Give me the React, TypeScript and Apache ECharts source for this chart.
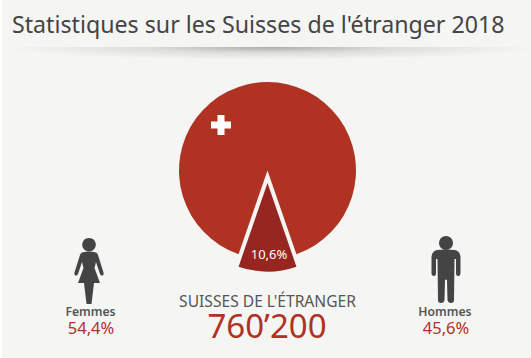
import React, { useEffect, useRef } from "react";
import * as echarts from "echarts";

const TITLE = "Statistiques sur les Suisses de l'étranger 2018";
const sliceNames = ["Suisses de l'étranger", "Reste"];
const sliceValues = [10.6, 89.4];
const sliceLabel = "10,6%";
const totalLabel = "SUISSES DE L'ÉTRANGER";
const totalValue = "760’200";
const genderNames = ["Femmes", "Hommes"];
const genderShares = ["54,4%", "45,6%"];

const RED = "#b03222";
const DARK_RED = "#96261f";
const GREY = "#444444";
const BG = "#f5f5f3";
const FONT = "'Noto Sans', sans-serif";

echarts.graphic.registerShape(
  "woman",
  echarts.graphic.extendPath(
    "M82 252.5 Q89 250.5 96 252.5 Q97.5 253 98 255 L103.5 272.5 Q104 275 102.5 275.5 Q101 276 100 274 L96 262 L94.5 268 L100 283 L94 283 L91.5 304 L86.5 304 L84 283 L78 283 L83.5 268 L82 262 L78 274 Q77 276 75.5 275.5 Q74 275 74.5 272.5 L80 255 Q80.5 253 82 252.5 Z",
    {}
  )
);
echarts.graphic.registerShape(
  "man",
  echarts.graphic.extendPath(
    "M437 250 Q446 249 455 250 Q460 251 460.5 257 L460.5 273 Q460.5 276 458 276 Q456 276 456 273 L456 259 L454.5 259 L454 300 Q454 303 451 303 Q448 303 447.5 300 L447 280 Q446 279 445 280 L444.5 300 Q444 303 441 303 Q438 303 438 300 L437.5 259 L436 259 L436 273 Q436 276 434 276 Q431.5 276 431.5 273 L431.5 257 Q432 251 437 250 Z",
    {}
  )
);

export default function App() {
  const ref = useRef<HTMLDivElement>(null);
  useEffect(() => {
    document.body.style.margin = "0";
    document.body.style.background = "#ffffff";
    const chart = echarts.init(ref.current!, null, { renderer: "svg" });
    const label = (x: number, y: number, text: string, fontSize: number, fill: string, fontWeight: any = 400) => ({
      type: "text",
      x,
      y,
      style: {
        text,
        fontSize,
        lineHeight: Math.round(fontSize * 0.85),
        fill,
        fontWeight,
        fontFamily: FONT,
        align: "center",
        verticalAlign: "middle",
      },
      z: 10,
    });
    chart.setOption({
      animation: false,
      graphic: [
        { type: "rect", shape: { x: 2, y: 0, width: 529, height: 358 }, style: { fill: BG }, z: -10, silent: true },
        {
          type: "ellipse",
          shape: { cx: 270, cy: 47, rx: 268, ry: 13 },
          style: {
            fill: {
              type: "radial",
              x: 0.5,
              y: 0.5,
              r: 0.5,
              colorStops: [
                { offset: 0, color: "rgba(0,0,0,0.3)" },
                { offset: 0.45, color: "rgba(0,0,0,0.1)" },
                { offset: 1, color: "rgba(0,0,0,0)" },
              ],
            },
          },
          z: -9,
          silent: true,
        },
        { type: "rect", shape: { x: 2, y: 0, width: 529, height: 47 }, style: { fill: BG }, z: -8, silent: true },
        {
          type: "text",
          x: 12,
          y: 24,
          style: { text: TITLE, fontSize: 23.2, fill: GREY, fontFamily: FONT, align: "left", verticalAlign: "middle" },
          z: 10,
        },
        { type: "rect", shape: { x: 211, y: 121.5, width: 20, height: 7 }, style: { fill: "#ffffff" }, z: 10 },
        { type: "rect", shape: { x: 217.5, y: 115, width: 7, height: 20 }, style: { fill: "#ffffff" }, z: 10 },
        { type: "woman", style: { fill: GREY }, z: 10 },
        { type: "circle", shape: { cx: 89, cy: 244.7, r: 6.8 }, style: { fill: GREY }, z: 10 },
        { type: "man", style: { fill: GREY }, z: 10 },
        { type: "circle", shape: { cx: 446, cy: 243, r: 7 }, style: { fill: GREY }, z: 10 },
        label(90.5, 311, genderNames[0], 12.2, "#555555", 600),
        label(91, 327, genderShares[0], 16.5, RED),
        label(445, 311, genderNames[1], 12.2, "#555555", 600),
        label(446, 327, genderShares[1], 16.5, RED),
        label(267.5, 301, totalLabel, 15.6, "#555555"),
        label(267, 325.5, totalValue, 33, RED),
        label(269, 254, sliceLabel, 13, "#ffffff"),
      ],
      series: [
        {
          type: "pie",
          center: [267.5, 170.5],
          radius: [0, 88.5],
          startAngle: -70.92,
          clockwise: true,
          selectedMode: "single",
          selectedOffset: 12.5,
          silent: true,
          label: { show: false },
          labelLine: { show: false },
          emphasis: { disabled: true },
          data: [
            {
              name: sliceNames[0],
              value: sliceValues[0],
              selected: true,
              itemStyle: { color: DARK_RED },
              select: { itemStyle: { color: DARK_RED } },
            },
            {
              name: sliceNames[1],
              value: sliceValues[1],
              itemStyle: { color: RED },
            },
          ],
        },
      ],
    });
    return () => chart.dispose();
  }, []);
  return <div ref={ref} style={{ position: "absolute", left: 0, top: 0, width: 531, height: 358 }} />;
}
